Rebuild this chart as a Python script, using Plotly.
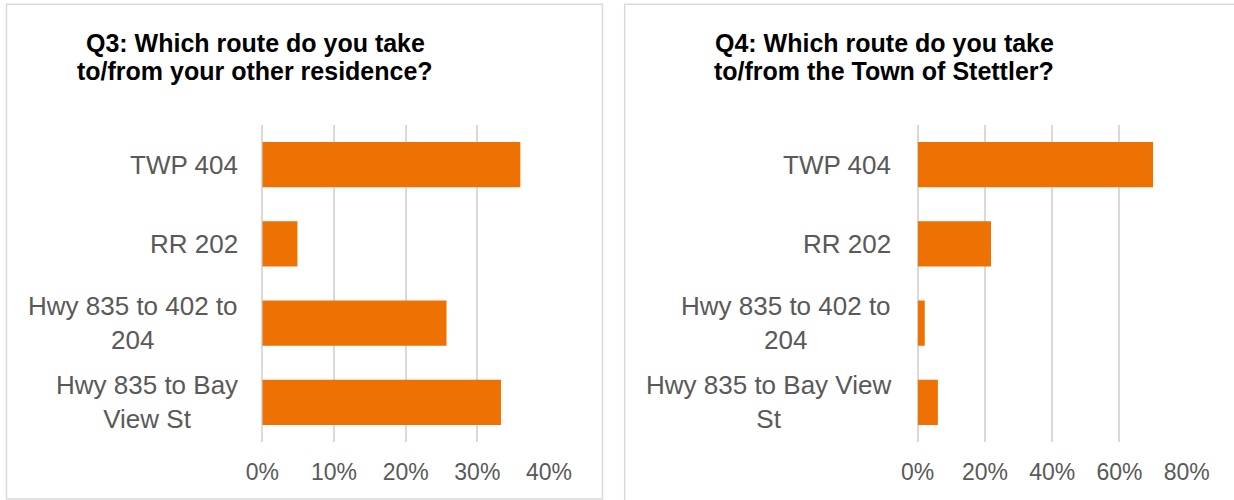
import plotly.graph_objects as go

# Route options (top to bottom) and share of respondents
routes = ["TWP 404", "RR 202", "Hwy 835 to 402 to 204", "Hwy 835 to Bay View St"]
q3_share = [0.36, 0.049, 0.257, 0.333]
q4_share = [0.70, 0.218, 0.021, 0.060]

# Wrapped category labels as laid out in each panel
q3_labels = ["TWP 404", "RR 202", "Hwy 835 to 402 to<br>204", "Hwy 835 to Bay<br>View St"]
q4_labels = ["TWP 404", "RR 202", "Hwy 835 to 402 to<br>204", "Hwy 835 to Bay View<br>St"]

q3_title = ["Q3: Which route do you take", "to/from your other residence?"]
q4_title = ["Q4: Which route do you take", "to/from the Town of Stettler?"]

W, H = 1234, 500
BAR = "#ED7103"
GRID = "#D9D9D9"
TXT = "#595959"
FONT = "Liberation Sans, Arial, sans-serif"


def px_x(v):
    return v / W


def px_y(v):
    return 1 - v / H


fig = go.Figure()
fig.add_trace(go.Bar(x=q3_share, y=routes, orientation="h", marker_color=BAR,
                     marker_line_width=0, xaxis="x", yaxis="y", hoverinfo="x+y"))
fig.add_trace(go.Bar(x=q4_share, y=routes, orientation="h", marker_color=BAR,
                     marker_line_width=0, xaxis="x2", yaxis="y2", hoverinfo="x+y"))

ydom = [px_y(442), px_y(125)]
common_x = dict(tickformat=".0%", showgrid=True, gridcolor=GRID, gridwidth=1.5,
                zeroline=True, zerolinecolor=GRID, zerolinewidth=1.5, showline=False,
                tickfont=dict(family=FONT, size=23, color=TXT), ticks="",
                ticklabelstandoff=14, fixedrange=True, automargin=False)
common_y = dict(type="category", categoryorder="array", categoryarray=routes,
                autorange="reversed", showticklabels=False, showgrid=False,
                zeroline=False, showline=False, domain=ydom, fixedrange=True,
                automargin=False)

fig.update_layout(
    template="none",
    width=W, height=H, autosize=False, margin=dict(l=0, r=0, t=0, b=0, pad=0),
    paper_bgcolor="white", plot_bgcolor="white", showlegend=False,
    bargap=0.432,
    xaxis=dict(common_x, domain=[px_x(262.3), px_x(549)], range=[0, 0.4], dtick=0.1, anchor="y"),
    yaxis=dict(common_y, anchor="x"),
    xaxis2=dict(common_x, domain=[px_x(917.7), px_x(1186.7)], range=[0, 0.8], dtick=0.2, anchor="y2"),
    yaxis2=dict(common_y, anchor="x2"),
)

annotations = []
# Category labels: right-aligned block, lines centred within it
for labels, xr, yref in [(q3_labels, 240, "y"), (q4_labels, 893, "y2")]:
    for cat, lab in zip(routes, labels):
        annotations.append(dict(text=lab, x=px_x(xr), xref="paper", y=cat, yref=yref,
                                xanchor="right", yanchor="middle", align="center",
                                showarrow=False,
                                font=dict(family=FONT, size=26, color=TXT)))

# Panel titles, one annotation per line
for lines, cx in [(q3_title, 255), (q4_title, 884)]:
    for line, cy in zip(lines, [43, 71]):
        annotations.append(dict(text="<b>%s</b>" % line, x=px_x(cx), xref="paper",
                                y=px_y(cy), yref="paper", xanchor="center", yanchor="middle",
                                showarrow=False,
                                font=dict(family=FONT, size=25, color="black")))
fig.update_layout(annotations=annotations)

# Light grey frames around each chart panel
fig.add_shape(type="rect", xref="paper", yref="paper",
              x0=px_x(6.5), x1=px_x(602.5), y0=px_y(499), y1=px_y(4.3),
              line=dict(color=GRID, width=1.5), layer="below")
fig.add_shape(type="rect", xref="paper", yref="paper",
              x0=px_x(624.7), x1=px_x(1240), y0=px_y(503), y1=px_y(4.3),
              line=dict(color=GRID, width=1.5), layer="below")

# Page without the default body margin so the figure fills the window exactly
fig.write_html("out.html",
               post_script="document.body.style.margin='0';"
                           "document.body.style.overflow='hidden';")
